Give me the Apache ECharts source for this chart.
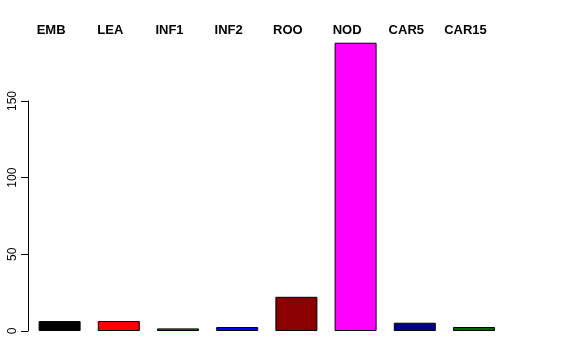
<!DOCTYPE html>
<html>
<head>
<meta charset="utf-8">
<script src="https://cdn.jsdelivr.net/npm/echarts@6/dist/echarts.min.js"></script>
<style>html,body{margin:0;padding:0;background:#fff;}#c{width:576px;height:360px;}</style>
</head>
<body>
<div id="c"></div>
<script>
const categories = ['EMB', 'LEA', 'INF1', 'INF2', 'ROO', 'NOD', 'CAR5', 'CAR15'];
const values = [6.5, 6.5, 1.7, 2.6, 22.3, 188, 5.4, 2.6];
const barColors = ['#000000', '#ff0000', '#008b00', '#0000ff', '#8b0000', '#ff00ff', '#00008b', '#006400'];
const yTicks = [0, 50, 100, 150];

const chart = echarts.init(document.getElementById('c'), null, {renderer: 'canvas'});
chart.setOption({
  animation: false,
  backgroundColor: '#ffffff',
  grid: {left: 30, right: 72.4, top: 101, bottom: 29, containLabel: false},
  xAxis: {
    type: 'category',
    position: 'top',
    data: categories,
    axisLine: {show: false},
    axisTick: {show: false},
    splitLine: {show: false},
    axisLabel: {
      show: true,
      interval: 0,
      margin: 64,
      color: '#000',
      fontFamily: 'Liberation Sans, Arial, sans-serif',
      fontWeight: 'bold',
      fontSize: 13,
      padding: [0, 17, 0, 0]
    }
  },
  yAxis: {
    type: 'value',
    min: yTicks[0],
    max: yTicks[yTicks.length - 1],
    interval: 50,
    offset: 2,
    axisLine: {show: true, lineStyle: {color: '#000', width: 1}},
    axisTick: {show: true, length: 7, lineStyle: {color: '#000', width: 1}},
    splitLine: {show: false},
    axisLabel: {
      rotate: 90,
      margin: 9,
      color: '#000',
      fontFamily: 'Liberation Sans, Arial, sans-serif',
      fontSize: 12
    }
  },
  series: [{
    type: 'bar',
    clip: false,
    barWidth: 42,
    data: values.map((v, i) => ({
      value: v,
      itemStyle: {color: barColors[i], borderColor: '#000', borderWidth: 1}
    }))
  }]
});
</script>
</body>
</html>
